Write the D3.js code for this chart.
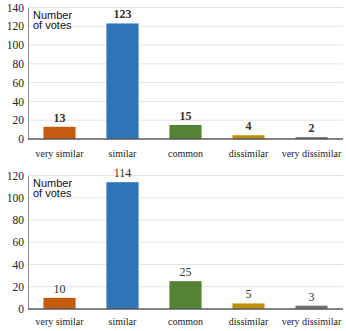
<!DOCTYPE html>
<html>
<head>
<meta charset="utf-8">
<script src="https://cdn.jsdelivr.net/npm/d3@7"></script>
<style>
body{margin:0;background:#fff;}
.serif{font-family:"Liberation Serif","Times New Roman","DejaVu Serif",serif;}
.sans{font-family:"Liberation Sans",Arial,sans-serif;}
</style>
</head>
<body>
<script>
// data
var categories = ["very similar", "similar", "common", "dissimilar", "very dissimilar"];
var votesTop = [13, 123, 15, 4, 2];
var votesBottom = [10, 114, 25, 5, 3];
var ticksTop = [0, 20, 40, 60, 80, 100, 120, 140];
var ticksBottom = [0, 20, 40, 60, 80, 100, 120];
var barColors = ["#c55a11", "#2e75b6", "#548235", "#bf9000", "#767171"];

var svg = d3.select("body").append("svg")
	.attr("width", 346)
	.attr("height", 331);

var makePanel = function(values, ticks, top, bottom, labelY, bold){
	var x = d3.scaleBand().domain(categories).range([28, 343]).paddingInner(0.49).paddingOuter(0.245);
	var y = d3.scaleLinear().domain([0, ticks[ticks.length - 1]]).range([bottom, top]);
	var g = svg.append("g");

	// gridlines
	g.selectAll(".grid").data(ticks.slice(1)).enter().append("line")
		.attr("x1", 28).attr("x2", 343)
		.attr("y1", function(d){ return y(d); })
		.attr("y2", function(d){ return y(d); })
		.attr("stroke", "#e3e3e3").attr("stroke-width", 1);

	// y axis
	var yAxis = g.append("g").attr("transform", "translate(28,0)")
		.call(d3.axisLeft(y).tickValues(ticks).tickSize(0).tickPadding(4));
	yAxis.select(".domain").attr("stroke", "#8c8c8c");
	yAxis.attr("font-family", null).attr("font-size", null);
	yAxis.selectAll("text")
		.attr("class", "serif").style("font-size", "11.5px").attr("fill", "#222");

	// bars
	g.selectAll(".bar").data(values).enter().append("rect")
		.attr("x", function(d, i){ return x(categories[i]); })
		.attr("y", function(d){ return y(d); })
		.attr("width", x.bandwidth())
		.attr("height", function(d){ return y(0) - y(d); })
		.attr("fill", function(d, i){ return barColors[i]; });

	// value labels
	g.selectAll(".val").data(values).enter().append("text")
		.attr("class", "serif")
		.attr("x", function(d, i){ return x(categories[i]) + x.bandwidth() / 2; })
		.attr("y", function(d){ return y(d) - 5; })
		.attr("text-anchor", "middle")
		.style("font-size", "12px")
		.attr("font-weight", bold ? "bold" : "normal")
		.attr("fill", "#333")
		.text(function(d){ return d; });

	// baseline
	g.append("line")
		.attr("x1", 28).attr("x2", 343)
		.attr("y1", y(0)).attr("y2", y(0))
		.attr("stroke", "#595959").attr("stroke-width", 1.5);

	// category labels
	g.selectAll(".cat").data(categories).enter().append("text")
		.attr("class", "serif")
		.attr("x", function(d){ return x(d) + x.bandwidth() / 2; })
		.attr("y", labelY)
		.attr("text-anchor", "middle")
		.style("font-size", "10px")
		.attr("fill", "#222")
		.text(function(d){ return d; });

	// axis title inside the plot
	var t = g.append("text")
		.attr("class", "sans").style("font-size", "11px")
		.attr("fill", "#111");
	t.append("tspan").attr("x", 33).attr("y", top + 11).text("Number");
	t.append("tspan").attr("x", 33).attr("y", top + 21.5).text("of votes");
};

makePanel(votesTop, ticksTop, 7.5, 139, 156.5, true);
makePanel(votesBottom, ticksBottom, 175.5, 309, 325, false);
</script>
</body>
</html>
